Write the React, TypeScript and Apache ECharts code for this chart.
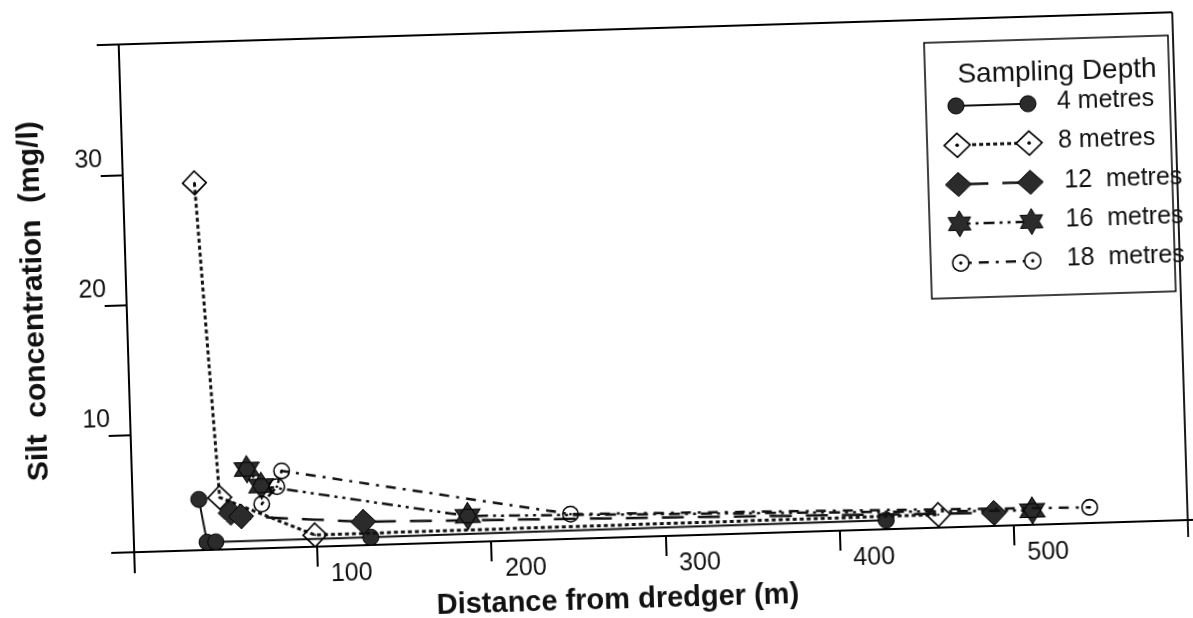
import React, { useEffect, useRef } from "react";
import * as echarts from "echarts";

// ---- data ----
const seriesNames = ["4 metres", "8 metres", "12  metres", "16  metres", "18  metres"];
const depth4m = [[33, 4.9], [37, 1.6], [42, 1.6], [131, 1.6], [427, 1.7]];
const depth8m = [[36, 29.2], [45, 5.0], [99, 1.9], [457, 2.0]];
const depth12m = [[51, 3.8], [57, 3.5], [127, 2.8], [489, 2.0]];
const depth16m = [[61, 7.1], [69, 5.8], [187, 3.0], [511, 2.1]];
const depth18m = [[69, 4.4], [78, 5.7], [81, 6.9], [246, 2.9], [544, 2.2]];
const xTicks = [100, 200, 300, 400, 500];
const yTicks = [10, 20, 30];
const legendTitle = "Sampling Depth";
const xTitle = "Distance from dredger (m)";
const yTitle = "Silt  concentration  (mg/l)";

const FONT = "'Liberation Sans', Arial, sans-serif";
const INK = "#111";
const FILL = "#2b2b2b";

const STAR_PATH = "path://M50,0 L93.3,75 L6.7,75 Z M50,100 L6.7,25 L93.3,25 Z";
const DIAMOND_RING_PATH =
  "path://M50,0 L100,50 L50,100 L0,50 Z M50,9 L9,50 L50,91 L91,50 Z M45,50 L50,45 L55,50 L50,55 Z";
const CIRCLE_RING_PATH =
  "path://M0,50 A50,50 0 1,1 100,50 A50,50 0 1,1 0,50 Z M9,50 A41,41 0 1,0 91,50 A41,41 0 1,0 9,50 Z M42,50 A8,8 0 1,1 58,50 A8,8 0 1,1 42,50 Z";

const seriesStyles = [
  { symbol: "circle", size: 16, dash: "solid", width: 2, color: FILL, border: 1 },
  { symbol: DIAMOND_RING_PATH, size: 26, dash: [4, 3], width: 3, color: "#000", border: 0 },
  { symbol: "diamond", size: 25, dash: [22, 14], width: 2.5, color: FILL, border: 1 },
  { symbol: STAR_PATH, size: [25, 27], dash: [3, 5, 3, 5, 11, 5], width: 2.5, color: FILL, border: 1 },
  { symbol: CIRCLE_RING_PATH, size: 17, dash: [3, 7, 10, 7], width: 2.5, color: "#000", border: 0 },
];
const seriesData = [depth4m, depth8m, depth12m, depth16m, depth18m];

function legendSymbol(kind: number, cx: number, cy: number): any[] {
  if (kind === 0) {
    return [{ type: "circle", shape: { cx, cy, r: 8 }, style: { fill: FILL, stroke: "#000", lineWidth: 1 } }];
  }
  if (kind === 1 || kind === 2) {
    const pts = [[cx, cy - 12], [cx + 13, cy], [cx, cy + 12], [cx - 13, cy]];
    const els: any[] = [
      {
        type: "polygon",
        shape: { points: pts },
        style: { fill: kind === 1 ? "#fff" : FILL, stroke: "#000", lineWidth: kind === 1 ? 1.6 : 1 },
      },
    ];
    if (kind === 1) els.push({ type: "circle", shape: { cx, cy, r: 1.8 }, style: { fill: "#000" } });
    return els;
  }
  if (kind === 3) {
    const pts: number[][] = [];
    for (let k = 0; k < 12; k++) {
      const a = (-90 + 30 * k) * (Math.PI / 180);
      const r = k % 2 === 0 ? 13 : 13 / Math.sqrt(3);
      pts.push([cx + r * Math.cos(a), cy + r * Math.sin(a)]);
    }
    return [{ type: "polygon", shape: { points: pts }, style: { fill: FILL, stroke: "#000", lineWidth: 1 } }];
  }
  return [
    { type: "circle", shape: { cx, cy, r: 8 }, style: { fill: "#fff", stroke: "#000", lineWidth: 1.5 } },
    { type: "circle", shape: { cx, cy, r: 1.6 }, style: { fill: "#000" } },
  ];
}

export default function App() {
  const ref = useRef<HTMLDivElement>(null);

  useEffect(() => {
    if (!ref.current) return;
    const chart = echarts.init(ref.current, null, { renderer: "svg" });

    const gridLeft = 127;
    const gridTop = 30;
    const gridW = 1054;
    const gridH = 508;
    const gridRight = gridLeft + gridW;
    const gridBottom = gridTop + gridH;

    // legend drawn as graphics
    const lx1 = 962;
    const lx2 = 1034;
    const legendEls: any[] = [
      {
        type: "rect",
        shape: { x: 932, y: 53, width: 244, height: 256 },
        style: { fill: "#fff", stroke: "#000", lineWidth: 1.5 },
      },
      {
        type: "text",
        x: 1064,
        y: 84,
        style: {
          text: legendTitle,
          font: `28px ${FONT}`,
          fill: INK,
          align: "center",
          verticalAlign: "middle",
        },
      },
    ];
    seriesNames.forEach((name, i) => {
      const y = 117 + 39.3 * i;
      const st = seriesStyles[i];
      legendEls.push({
        type: "line",
        shape: { x1: lx1 + 8, y1: y, x2: lx2 - 8, y2: y },
        style: {
          stroke: INK,
          lineWidth: st.width,
          lineDash: st.dash === "solid" ? null : st.dash,
        },
      });
      legendEls.push(...legendSymbol(i, lx1, y));
      legendEls.push(...legendSymbol(i, lx2, y));
      legendEls.push({
        type: "text",
        x: i < 2 ? 1063 : 1068,
        y: y - 3,
        style: { text: name, font: `25px ${FONT}`, fill: INK, align: "left", verticalAlign: "middle" },
      });
    });

    const frameEls: any[] = [
      { type: "line", shape: { x1: 105, y1: gridTop, x2: gridRight, y2: gridTop }, style: { stroke: "#000", lineWidth: 1.8 } },
      { type: "line", shape: { x1: gridRight, y1: gridTop, x2: gridRight, y2: 555 }, style: { stroke: "#000", lineWidth: 1.8 } },
      { type: "line", shape: { x1: 104, y1: gridBottom, x2: gridLeft, y2: gridBottom }, style: { stroke: "#000", lineWidth: 2 } },
      { type: "line", shape: { x1: gridRight, y1: gridBottom, x2: 1193, y2: gridBottom }, style: { stroke: "#000", lineWidth: 2 } },
      { type: "line", shape: { x1: gridLeft, y1: gridBottom, x2: gridLeft, y2: 559 }, style: { stroke: "#000", lineWidth: 2 } },
    ];

    chart.setOption({
      animation: false,
      backgroundColor: "#fff",
      grid: {
        left: gridLeft,
        top: gridTop,
        width: gridW,
        height: gridH,
        containLabel: false,
        outerBoundsMode: "none",
      },
      xAxis: {
        type: "value",
        min: -5,
        max: 600,
        splitLine: { show: false },
        axisLine: { show: true, onZero: false, lineStyle: { color: "#000", width: 2 } },
        axisTick: { show: true, length: 20, customValues: xTicks, lineStyle: { color: "#000", width: 2 } },
        axisLabel: {
          customValues: xTicks,
          fontSize: 25,
          fontFamily: FONT,
          color: INK,
          align: "left",
          margin: 13,
          padding: [0, 0, 0, 13],
        },
        name: xTitle,
        nameLocation: "middle",
        nameGap: 46,
        nameTextStyle: {
          fontSize: 29,
          fontWeight: "bold",
          fontFamily: FONT,
          color: INK,
          padding: [0, 90, 0, 0],
        },
      },
      yAxis: {
        type: "value",
        min: 1,
        max: 40,
        splitLine: { show: false },
        axisLine: { show: true, onZero: false, lineStyle: { color: "#000", width: 2 } },
        axisTick: { show: true, length: 22, customValues: yTicks, lineStyle: { color: "#000", width: 2 } },
        axisLabel: {
          customValues: yTicks,
          fontSize: 25,
          fontFamily: FONT,
          color: INK,
          margin: 20,
          verticalAlign: "bottom",
          padding: [0, 0, 5, 0],
        },
        name: yTitle,
        nameLocation: "middle",
        nameGap: 80,
        nameTextStyle: { fontSize: 30, fontWeight: "bold", fontFamily: FONT, color: INK },
      },
      series: seriesNames.map((name, i) => {
        const st = seriesStyles[i];
        return {
          name,
          type: "line",
          data: seriesData[i],
          symbol: st.symbol,
          symbolSize: st.size,
          showAllSymbol: true,
          lineStyle: { color: INK, width: st.width, type: st.dash },
          itemStyle: { color: st.color, borderColor: "#000", borderWidth: st.border, opacity: 1 },
          z: 2 + i,
        };
      }),
      graphic: [...frameEls, ...legendEls.map((e) => ({ ...e, z: 100 }))],
    });

    return () => {
      chart.dispose();
    };
  }, []);

  return (
    <div
      style={{
        position: "fixed",
        left: 0,
        top: 0,
        width: 1193,
        height: 618,
        background: "#fff",
        transform: "rotate(-1.75deg)",
        transformOrigin: "596.5px 309px",
      }}
    >
      <div ref={ref} style={{ width: 1193, height: 618 }} />
    </div>
  );
}
